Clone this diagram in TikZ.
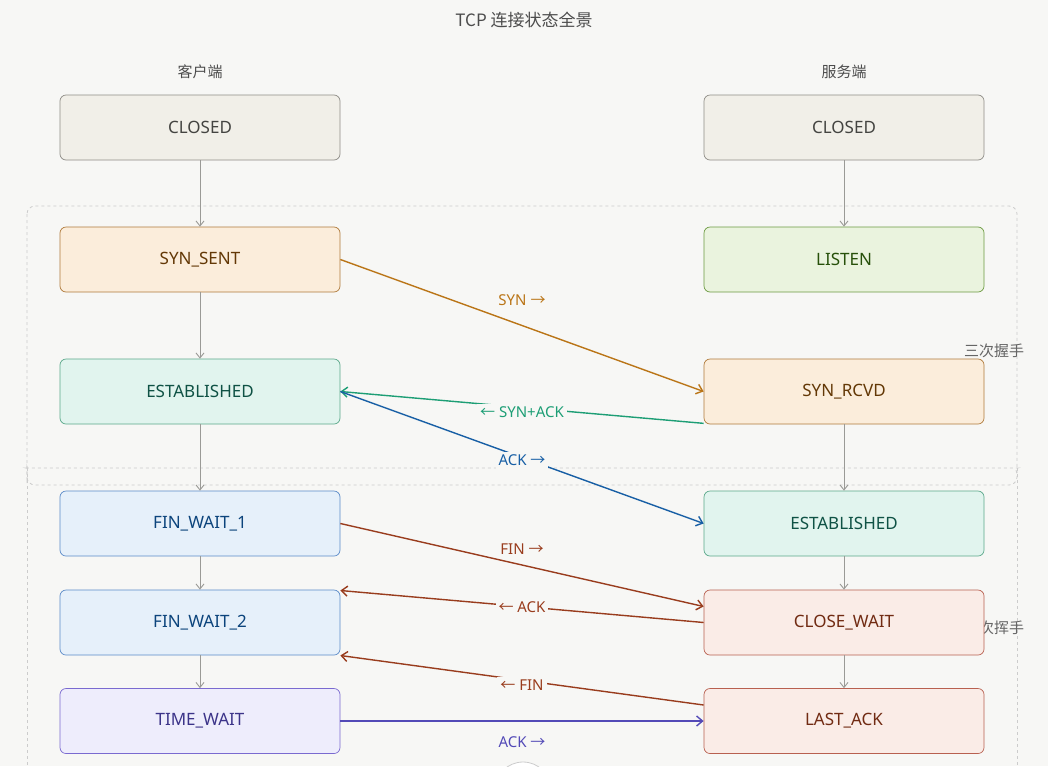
\documentclass[tikz,border=0pt]{standalone}
\usepackage{fontspec}
\setmainfont{Noto Sans}
\newfontfamily\cjk{Noto Sans CJK SC}
\usetikzlibrary{arrows.meta}
\definecolor{bg}{HTML}{F7F7F5}
\definecolor{grayA}{HTML}{9A9A96}
\definecolor{gF}{HTML}{F1EFE8}\definecolor{gD}{HTML}{8E8C86}\definecolor{gT}{HTML}{444441}
\definecolor{oF}{HTML}{FBEDDB}\definecolor{oD}{HTML}{B07A3A}\definecolor{oT}{HTML}{633806}\definecolor{oL}{HTML}{BA7517}
\definecolor{tF}{HTML}{E1F4EE}\definecolor{tD}{HTML}{5AA88A}\definecolor{tT}{HTML}{0F5245}\definecolor{tL}{HTML}{1D9E75}
\definecolor{bF}{HTML}{E6F0FA}\definecolor{bD}{HTML}{5A8AC8}\definecolor{bT}{HTML}{0C447C}\definecolor{bL}{HTML}{185FA5}
\definecolor{pF}{HTML}{EEEDFC}\definecolor{pD}{HTML}{7A6AD0}\definecolor{pT}{HTML}{3C3489}\definecolor{pL}{HTML}{534AB7}
\definecolor{lF}{HTML}{EAF3DE}\definecolor{lD}{HTML}{6C9A40}\definecolor{lT}{HTML}{27500A}
\definecolor{rF}{HTML}{FAECE7}\definecolor{rD}{HTML}{B86050}\definecolor{rT}{HTML}{712B13}\definecolor{rL}{HTML}{993C1D}
\begin{document}
\begin{tikzpicture}[x=1pt,y=-1pt,
  st/.style={draw=#1D,fill=#1F,text=#1T,rounded corners=6pt,minimum width=280pt,minimum height=65pt,line width=0.7pt,font=\fontsize{17}{20}\selectfont,inner sep=0pt},
  flow/.style={draw=grayA,line width=0.9pt,-{Straight Barb[length=5pt,width=8pt]}},
  msg/.style={line width=1.4pt,-{Straight Barb[length=6pt,width=10pt]}},
  lab/.style={fill=bg,inner sep=3pt,font=\fontsize{15}{18}\selectfont},
  grp/.style={draw=black!20,dashed,line width=0.8pt,rounded corners=8pt}]
\useasboundingbox (0,0) rectangle (1048,766);
\clip (0,0) rectangle (1048,766);
\fill[bg] (0,0) rectangle (1048,766);
\draw[grp] (27,206) rectangle (1017,485);
\draw[grp] (27,468) -- (27,790);
\draw[grp] (1017,468) -- (1017,790);
\draw[grp] (27,480) -- (27,475) arc[start angle=180,end angle=270,radius=7] -- (1010,468) arc[start angle=-90,end angle=0,radius=7];
\draw[black!20,line width=0.8pt,fill=white] (523,790) circle (28);
\node[font=\cjk\fontsize{17}{20}\selectfont,text=black!70] (title) at (524,20) {TCP 连接状态全景};
\node[font=\cjk\fontsize{15}{18}\selectfont,text=black!70] (hc) at (200,72) {客户端};
\node[font=\cjk\fontsize{15}{18}\selectfont,text=black!70] (hs) at (844,72) {服务端};
\node[font=\cjk\fontsize{15}{18}\selectfont,text=black!60] (g1) at (994,351) {三次握手};
\node[font=\cjk\fontsize{15}{18}\selectfont,text=black!60] (g2) at (994,628) {四次挥手};
\node[st=g] (c1) at (200,127.5) {\raisebox{-7pt}{CLOSED}};
\node[st=o] (c2) at (200,259.5) {\raisebox{-7pt}{SYN\_SENT}};
\node[st=t] (c3) at (200,391.5) {\raisebox{-7pt}{ESTABLISHED}};
\node[st=b] (c4) at (200,523.5) {\raisebox{-7pt}{FIN\_WAIT\_1}};
\node[st=b] (c5) at (200,622.5) {\raisebox{-7pt}{FIN\_WAIT\_2}};
\node[st=p] (c6) at (200,721) {\raisebox{-7pt}{TIME\_WAIT}};
\node[st=g] (s1) at (844,127.5) {\raisebox{-7pt}{CLOSED}};
\node[st=l] (s2) at (844,259.5) {\raisebox{-7pt}{LISTEN}};
\node[st=o] (s3) at (844,391.5) {\raisebox{-7pt}{SYN\_RCVD}};
\node[st=t] (s4) at (844,523.5) {\raisebox{-7pt}{ESTABLISHED}};
\node[st=r] (s5) at (844,622.5) {\raisebox{-7pt}{CLOSE\_WAIT}};
\node[st=r] (s6) at (844,721) {\raisebox{-7pt}{LAST\_ACK}};
\foreach \a/\b in {c1/c2,c2/c3,c3/c4,c4/c5,c5/c6,s1/s2,s3/s4,s4/s5,s5/s6}
  \draw[flow] (\a.south) -- (\b.north);
\draw[msg,draw=oL] (c2.east) -- (s3.west);
\node[lab,text=oL] (l1) at (522,300) {SYN {\cjk →}};
\draw[msg,draw=tL] ([yshift=1pt]s3.south west) -- (c3.east);
\node[lab,text=tL] (l2) at (522,412) {{\cjk ←} SYN+ACK};
\draw[msg,draw=bL] (c3.east) -- (s4.west);
\node[lab,text=bL] (l3) at (522,460) {ACK {\cjk →}};
\draw[msg,draw=rL] (c4.east) -- ([yshift=16pt]s5.west);
\node[lab,text=rL] (l4) at (522,549) {FIN {\cjk →}};
\draw[msg,draw=rL] (s5.west) -- ([yshift=32pt]c5.east);
\node[lab,text=rL] (l5) at (522,607) {{\cjk ←} ACK};
\draw[msg,draw=rL] ([yshift=16pt]s6.west) -- ([yshift=-33pt]c5.east);
\node[lab,text=rL] (l6) at (522,685) {{\cjk ←} FIN};
\draw[msg,draw=pL] (c6.east) -- (s6.west);
\node[lab,text=pL,fill=none] (l7) at (522,742) {ACK {\cjk →}};
\end{tikzpicture}
\end{document}
